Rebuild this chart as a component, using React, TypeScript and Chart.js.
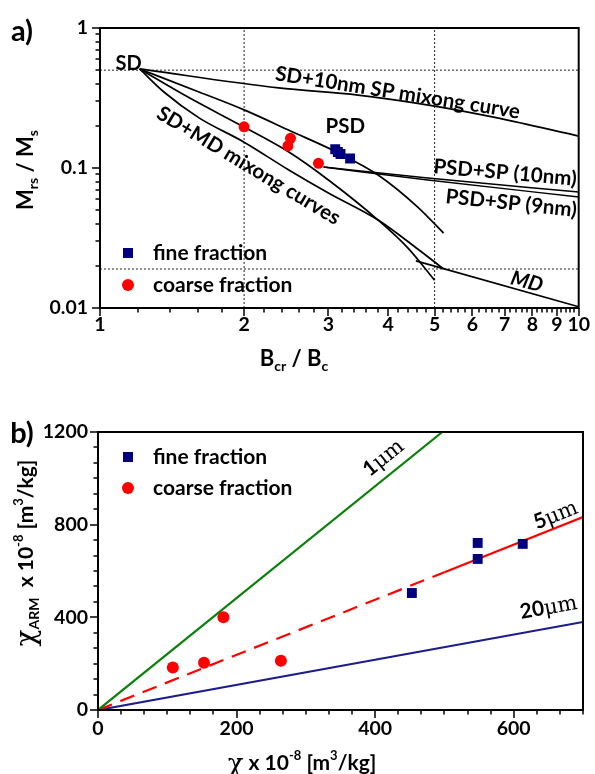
import React, { useEffect, useRef } from 'react';
import { Chart, registerables } from 'chart.js';

Chart.register(...registerables);

const FONT = 'Lato, "Open Sans", "DejaVu Sans", sans-serif';
const SERIF = '"DejaVu Serif", "Liberation Serif", serif';
const NAVY = '#00007f';
const RED = '#ff0000';
const GREEN = '#0a800a';
const BLUE_LINE = '#1c1c8a';

// ---------------- panel a) data ----------------
const aXMin = 1;
const aXMax = 10;
const aYMin = 0.01;
const aYMax = 1;
const aXTicks = [1, 2, 3, 4, 5, 6, 7, 8, 9, 10];
const aYTicks = [0.01, 0.1, 1];

const sdSp10nmX = [1.21, 2.36, 3.46, 5.0, 6.76, 10];
const sdSp10nmY = [0.51, 0.373, 0.332, 0.277, 0.228, 0.169];

const sdMd1X = [1.21, 1.61, 2.0, 2.5, 3.15, 3.81, 4.61, 5.22];
const sdMd1Y = [0.51, 0.349, 0.26, 0.184, 0.128, 0.0891, 0.0526, 0.0343];

const sdMd2X = [1.21, 1.54, 2.0, 2.48, 3.0, 3.81, 4.4, 5.0];
const sdMd2Y = [0.51, 0.316, 0.196, 0.13, 0.0821, 0.0425, 0.0268, 0.0158];

const sdMd3X = [1.21, 1.36, 1.61, 2.0, 2.48, 3.0, 3.81, 4.61, 5.22];
const sdMd3Y = [0.51, 0.349, 0.228, 0.153, 0.0968, 0.0663, 0.0425, 0.0264, 0.019];

const mdLineX = [4.57, 10];
const mdLineY = [0.0217, 0.0102];

const psdSp10X = [2.93, 4.84, 10];
const psdSp10Y = [0.1016, 0.0848, 0.0674];
const psdSp9X = [2.93, 4.84, 10];
const psdSp9Y = [0.1016, 0.0821, 0.0621];

const fineAX = [3.1, 3.14, 3.18, 3.33];
const fineAY = [0.136, 0.13, 0.126, 0.117];
const coarseAX = [2.0, 2.5, 2.47, 2.86];
const coarseAY = [0.197, 0.163, 0.144, 0.108];

const refLinesX = [2, 5];
const refLinesY = [0.5, 0.019];

// ---------------- panel b) data ----------------
const bXMin = 0;
const bXMax = 700;
const bYMin = 0;
const bYMax = 1200;
const bXTicks = [0, 200, 400, 600];
const bYTicks = [0, 400, 800, 1200];

const oneUmX = [0, 497];
const oneUmY = [0, 1200];
const fiveUmDashX = [0, 500];
const fiveUmDashY = [0, 595];
const fiveUmSolidX = [500, 700];
const fiveUmSolidY = [595, 833];
const twentyUmX = [0, 700];
const twentyUmY = [0, 380];

const fineBX = [453, 548, 548, 613];
const fineBY = [505, 652, 721, 717];
const coarseBX = [108, 153, 181, 264];
const coarseBY = [183, 204, 400, 213];

// ---------------- helpers ----------------
function zip(xs: number[], ys: number[]) {
  return xs.map((x, i) => ({ x, y: ys[i] }));
}

function lineDs(xs: number[], ys: number[], color: string, width: number, dash: number[] = [], smooth = true, order = 5) {
  return {
    data: zip(xs, ys),
    showLine: true,
    borderColor: color,
    backgroundColor: color,
    borderWidth: width,
    borderDash: dash,
    pointRadius: 0,
    pointHoverRadius: 0,
    fill: false,
    cubicInterpolationMode: smooth ? 'monotone' : 'default',
    tension: 0,
    order,
  };
}

function pointDs(xs: number[], ys: number[], color: string, style: string, radius: number) {
  return {
    data: zip(xs, ys),
    showLine: false,
    pointStyle: style,
    pointRadius: radius,
    pointHoverRadius: radius,
    pointBackgroundColor: color,
    pointBorderColor: color,
    pointBorderWidth: 0,
    backgroundColor: color,
    borderColor: color,
    order: 0,
  };
}

type Part = { t: string; s: number; dy?: number; fam?: string; it?: boolean; w?: string };

function drawRich(ctx: CanvasRenderingContext2D, parts: Part[], cx: number, cy: number, angle: number, base: number) {
  ctx.save();
  ctx.translate(cx, cy);
  ctx.rotate((angle * Math.PI) / 180);
  const fontOf = (p: Part) => `${p.it ? 'italic ' : ''}${p.w || 'bold'} ${p.s}px ${p.fam || FONT}`;
  const ws = parts.map((p) => {
    ctx.font = fontOf(p);
    return ctx.measureText(p.t).width;
  });
  const total = ws.reduce((a, b) => a + b, 0);
  let x = -total / 2;
  ctx.fillStyle = '#000';
  ctx.textAlign = 'left';
  ctx.textBaseline = 'alphabetic';
  parts.forEach((p, i) => {
    ctx.font = fontOf(p);
    ctx.fillText(p.t, x, base * 0.36 + (p.dy || 0));
    x += ws[i];
  });
  ctx.restore();
}

function drawFrameAndTicks(chart: any, xMajor: number[], xMinor: number[], yMajor: number[], yMinor: number[]) {
  const { ctx, chartArea: ca, scales } = chart;
  const xs = scales.x;
  const ys = scales.y;
  ctx.save();
  ctx.strokeStyle = '#000';
  ctx.lineWidth = 1.5;
  ctx.beginPath();
  xMajor.forEach((v) => {
    const p = Math.round(xs.getPixelForValue(v));
    ctx.moveTo(p, ca.bottom);
    ctx.lineTo(p, ca.bottom + 8);
  });
  xMinor.forEach((v) => {
    const p = Math.round(xs.getPixelForValue(v));
    ctx.moveTo(p, ca.bottom);
    ctx.lineTo(p, ca.bottom + 4.5);
  });
  yMajor.forEach((v) => {
    const p = Math.round(ys.getPixelForValue(v));
    ctx.moveTo(ca.left, p);
    ctx.lineTo(ca.left - 8, p);
  });
  yMinor.forEach((v) => {
    const p = Math.round(ys.getPixelForValue(v));
    ctx.moveTo(ca.left, p);
    ctx.lineTo(ca.left - 4.5, p);
  });
  ctx.stroke();
  ctx.lineWidth = 2;
  ctx.strokeRect(ca.left, ca.top, ca.right - ca.left, ca.bottom - ca.top);
  ctx.restore();
}

function drawLegend(chart: any, dx: number, dy: number, gap: number) {
  const { ctx, chartArea: ca } = chart;
  const cx = ca.left + dx;
  const cy1 = ca.top + dy;
  const cy2 = cy1 + gap;
  ctx.save();
  ctx.fillStyle = NAVY;
  ctx.fillRect(cx - 5, cy1 - 5, 10, 10);
  ctx.fillStyle = RED;
  ctx.beginPath();
  ctx.arc(cx, cy2, 6, 0, Math.PI * 2);
  ctx.fill();
  ctx.fillStyle = '#000';
  ctx.font = `bold 21px ${FONT}`;
  ctx.textAlign = 'left';
  ctx.textBaseline = 'middle';
  ctx.fillText('fine fraction', cx + 25, cy1);
  ctx.fillText('coarse fraction', cx + 25, cy2);
  ctx.restore();
}

function minorRange(from: number, to: number, step: number, skip: number[]) {
  const out: number[] = [];
  const n = Math.round((to - from) / step);
  for (let i = 0; i <= n; i++) {
    const v = from + i * step;
    if (!skip.some((s) => Math.abs(s - v) < 1e-9)) out.push(v);
  }
  return out;
}

const aXMinor = minorRange(1, 10, 0.2, aXTicks);
const aYMinor = [0.02, 0.03, 0.04, 0.05, 0.06, 0.07, 0.08, 0.09, 0.2, 0.3, 0.4, 0.5, 0.6, 0.7, 0.8, 0.9];
const bXMinor = minorRange(0, 700, 200 / 6, bXTicks);
const bYMinor = minorRange(0, 1200, 400 / 6, bYTicks);

const aLabels = [
  { t: 'SD', x: 1.148, y: 0.562, a: 0, it: false, s: 20 },
  { t: 'SD+10nm SP mixong curve', x: 4.19, y: 0.349, a: 9, it: false, s: 20.5 },
  { t: 'PSD', x: 3.254, y: 0.1995, a: 0, it: false, s: 20.5 },
  { t: 'PSD+SP (10nm)', x: 7.02, y: 0.0936, a: 5, it: false, s: 20.5 },
  { t: 'PSD+SP (9nm)', x: 7.23, y: 0.0567, a: 6, it: false, s: 20.5 },
  { t: 'MD', x: 7.8, y: 0.0156, a: 15, it: true, s: 20.5 },
  { t: 'SD+MD mixong curves', x: 2.047, y: 0.105, a: 31, it: false, s: 20.5 },
];

const bLabels = [
  { t: '1', x: 411, y: 1092, a: -39 },
  { t: '5', x: 660, y: 846, a: -22 },
  { t: '20', x: 650, y: 447, a: -10 },
];

const tickFont = { family: FONT, size: 19.5, weight: 'bold' as const };

function configA(): any {
  const datasets: any[] = [
    pointDs(fineAX, fineAY, NAVY, 'rect', 7),
    pointDs(coarseAX, coarseAY, RED, 'circle', 5.5),
    lineDs(sdSp10nmX, sdSp10nmY, '#000', 1.7),
    lineDs(sdMd1X, sdMd1Y, '#000', 1.7),
    lineDs(sdMd2X, sdMd2Y, '#000', 1.7),
    lineDs(sdMd3X, sdMd3Y, '#000', 1.7),
    lineDs(mdLineX, mdLineY, '#000', 1.7, [], false),
    lineDs(psdSp10X, psdSp10Y, '#000', 1.5),
    lineDs(psdSp9X, psdSp9Y, '#000', 1.5),
  ];
  refLinesX.forEach((v) => datasets.push(lineDs([v, v], [aYMin, aYMax], '#222', 1, [2, 2], false, 9)));
  refLinesY.forEach((v) => datasets.push(lineDs([aXMin, aXMax], [v, v], '#222', 1, [2, 2], false, 9)));

  const decor = {
    id: 'decorA',
    afterDatasetsDraw(chart: any) {
      const { ctx, scales } = chart;
      drawFrameAndTicks(chart, aXTicks, aXMinor, aYTicks, aYMinor);
      aLabels.forEach((l) => {
        drawRich(ctx, [{ t: l.t, s: l.s, it: l.it }], scales.x.getPixelForValue(l.x), scales.y.getPixelForValue(l.y), l.a, l.s);
      });
      drawLegend(chart, 28, 225, 32);
      drawRich(ctx, [{ t: 'a)', s: 29 }], 22, 31, 0, 29);
      drawRich(
        ctx,
        [
          { t: 'M', s: 22 },
          { t: 'rs', s: 14, dy: 5 },
          { t: ' / M', s: 22 },
          { t: 's', s: 14, dy: 5 },
        ],
        25,
        170,
        -90,
        22
      );
      drawRich(
        ctx,
        [
          { t: 'B', s: 22 },
          { t: 'cr', s: 14, dy: 5 },
          { t: ' / B', s: 22 },
          { t: 'c', s: 14, dy: 5 },
        ],
        294,
        358,
        0,
        22
      );
    },
  };

  return {
    type: 'scatter',
    data: { datasets },
    plugins: [decor],
    options: {
      responsive: false,
      devicePixelRatio: 1,
      animation: false,
      events: [],
      layout: { padding: { top: 28, right: 13, bottom: 0, left: 0 } },
      plugins: { legend: { display: false }, tooltip: { enabled: false } },
      scales: {
        x: {
          type: 'logarithmic',
          min: aXMin,
          max: aXMax,
          afterFit: (s: any) => {
            s.height = 82;
          },
          afterBuildTicks: (s: any) => {
            s.ticks = aXTicks.map((v) => ({ value: v }));
          },
          ticks: { callback: (v: any) => String(v), color: '#000', font: tickFont, padding: 5, maxRotation: 0, autoSkip: false },
          grid: { display: false, drawTicks: false },
          border: { display: false },
        },
        y: {
          type: 'logarithmic',
          min: aYMin,
          max: aYMax,
          afterFit: (s: any) => {
            s.width = 100;
          },
          afterBuildTicks: (s: any) => {
            s.ticks = aYTicks.map((v) => ({ value: v }));
          },
          ticks: { callback: (v: any) => String(v), color: '#000', font: tickFont, padding: 12, autoSkip: false },
          grid: { display: false, drawTicks: false },
          border: { display: false },
        },
      },
    },
  };
}

function configB(): any {
  const datasets: any[] = [
    pointDs(fineBX, fineBY, NAVY, 'rect', 7),
    pointDs(coarseBX, coarseBY, RED, 'circle', 6),
    lineDs(oneUmX, oneUmY, GREEN, 2.2, [], false),
    lineDs(fiveUmDashX, fiveUmDashY, RED, 2.2, [15, 9], false),
    lineDs(fiveUmSolidX, fiveUmSolidY, RED, 2.2, [], false),
    lineDs(twentyUmX, twentyUmY, BLUE_LINE, 2.2, [], false),
  ];

  const decor = {
    id: 'decorB',
    afterDatasetsDraw(chart: any) {
      const { ctx, scales } = chart;
      drawFrameAndTicks(chart, bXTicks, bXMinor, bYTicks, bYMinor);
      bLabels.forEach((l) => {
        drawRich(
          ctx,
          [
            { t: l.t, s: 21 },
            { t: 'μm', s: 21, fam: SERIF, w: 'normal' },
          ],
          scales.x.getPixelForValue(l.x),
          scales.y.getPixelForValue(l.y),
          l.a,
          21
        );
      });
      drawLegend(chart, 30, 25, 31);
      drawRich(ctx, [{ t: 'b)', s: 29 }], 22, 43, 0, 29);
      drawRich(
        ctx,
        [
          { t: 'χ', s: 28, fam: SERIF, dy: 2, w: 'normal' },
          { t: 'ARM', s: 14, dy: 6 },
          { t: '  x 10', s: 21 },
          { t: '-8', s: 13, dy: -10 },
          { t: ' [m', s: 21 },
          { t: '3', s: 13, dy: -10 },
          { t: '/kg]', s: 21 },
        ],
        25,
        163,
        -90,
        21
      );
      drawRich(
        ctx,
        [
          { t: 'χ', s: 26, fam: SERIF, dy: 2, w: 'normal' },
          { t: ' x 10', s: 21 },
          { t: '-8', s: 13, dy: -10 },
          { t: ' [m', s: 21 },
          { t: '3', s: 13, dy: -10 },
          { t: '/kg]', s: 21 },
        ],
        302,
        372,
        0,
        21
      );
    },
  };

  return {
    type: 'scatter',
    data: { datasets },
    plugins: [decor],
    options: {
      responsive: false,
      devicePixelRatio: 1,
      animation: false,
      events: [],
      layout: { padding: { top: 42, right: 12, bottom: 0, left: 0 } },
      plugins: { legend: { display: false }, tooltip: { enabled: false } },
      scales: {
        x: {
          type: 'linear',
          min: bXMin,
          max: bXMax,
          afterFit: (s: any) => {
            s.height = 64;
          },
          afterBuildTicks: (s: any) => {
            s.ticks = bXTicks.map((v) => ({ value: v }));
          },
          ticks: { callback: (v: any) => String(v), color: '#000', font: tickFont, padding: 7, maxRotation: 0, autoSkip: false },
          grid: { display: false, drawTicks: false },
          border: { display: false },
        },
        y: {
          type: 'linear',
          min: bYMin,
          max: bYMax,
          afterFit: (s: any) => {
            s.width = 98;
          },
          afterBuildTicks: (s: any) => {
            s.ticks = bYTicks.map((v) => ({ value: v }));
          },
          ticks: { callback: (v: any) => String(v), color: '#000', font: tickFont, padding: 10, autoSkip: false },
          grid: { display: false, drawTicks: false },
          border: { display: false },
        },
      },
    },
  };
}

export default function App() {
  const refA = useRef<HTMLCanvasElement>(null);
  const refB = useRef<HTMLCanvasElement>(null);

  useEffect(() => {
    document.body.style.margin = '0';
    const a = new Chart(refA.current as HTMLCanvasElement, configA());
    const b = new Chart(refB.current as HTMLCanvasElement, configB());
    return () => {
      a.destroy();
      b.destroy();
    };
  }, []);

  return (
    <div style={{ position: 'relative', width: 595, height: 774, background: '#fff' }}>
      <canvas ref={refA} width={595} height={390} style={{ position: 'absolute', left: 0, top: 0, width: 595, height: 390 }} />
      <canvas ref={refB} width={595} height={384} style={{ position: 'absolute', left: 0, top: 390, width: 595, height: 384 }} />
    </div>
  );
}
